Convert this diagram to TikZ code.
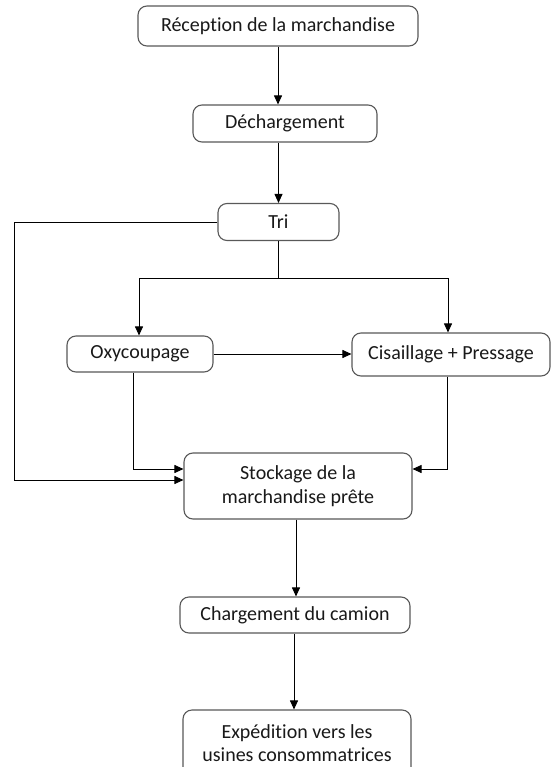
\documentclass[tikz,border=0pt]{standalone}
\usepackage{fontspec}
\setmainfont{Carlito}[Ligatures=CommonOff]
\usetikzlibrary{arrows.meta}
\begin{document}
\begin{tikzpicture}[x=1pt,y=-1pt,
    etape/.style={draw=black!65,line width=1.1pt,rounded corners=9pt,fill=white,
      text=black!90,align=center,inner sep=0pt,
      font=\fontsize{20}{23.5}\selectfont},
    fleche/.style={line width=0.9pt,-{Triangle[length=9pt,width=8pt]}},
    trait/.style={line width=0.9pt}]
  \useasboundingbox (0,0) rectangle (552,767);
  \fill[white] (0,0) rectangle (552,767);
  \node[etape,minimum width=280pt,minimum height=40pt] (recep) at (278,26) {Réception de la marchandise};
  \node[etape,minimum width=184pt,minimum height=37pt] (dech) at (285,123.5) {Déchargement};
  \node[etape,minimum width=121pt,minimum height=37pt] (tri) at (278.5,222) {Tri};
  \node[etape,minimum width=146pt,minimum height=36pt] (oxy) at (140,354) {Oxycoupage};
  \node[etape,minimum width=198pt,minimum height=43pt] (cis) at (451,354.5) {Cisaillage + Pressage};
  \node[etape,minimum width=228pt,minimum height=66pt] (stock) at (298,486) {Stockage de la\\marchandise prête};
  \node[etape,minimum width=230pt,minimum height=36pt] (charg) at (295,615) {Chargement du camion};
  \node[etape,minimum width=228pt,minimum height=66pt] (exped) at (297,743) {Expédition vers les\\usines consommatrices};
  \coordinate (split) at (278.5,278);
  \coordinate (gauche) at (14,0);
  \coordinate (entree) at ([yshift=6pt]stock.west);
  \draw[fleche] (recep.south) -- (recep.south |- dech.north);
  \draw[fleche] (tri.north |- dech.south) -- (tri.north);
  \draw[trait] (tri.south) -- (split);
  \draw[fleche] (split) -| ([xshift=-1pt]oxy.north);
  \draw[fleche] (split) -| ([xshift=-3pt]cis.north);
  \draw[fleche] (oxy.east) -- (oxy.east -| cis.west);
  \draw[fleche] (tri.west) -| (gauche |- entree) -- (entree);
  \draw[fleche] ([xshift=-7pt]oxy.south) |- ([yshift=17pt]stock.west);
  \draw[fleche] ([xshift=-4pt]cis.south) |- ([yshift=17pt]stock.east);
  \draw[fleche] ([xshift=-2pt]stock.south) -- ([xshift=-2pt]stock.south |- charg.north);
  \draw[fleche] ([xshift=-1pt]charg.south) -- ([xshift=-1pt]charg.south |- exped.north);
\end{tikzpicture}
\end{document}
